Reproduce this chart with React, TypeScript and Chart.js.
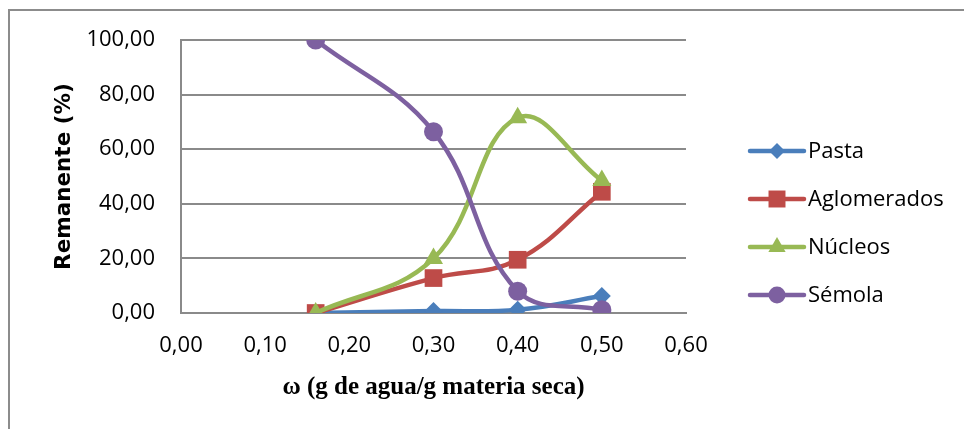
import { useEffect, useRef } from "react";
import { Chart, registerables } from "chart.js";

Chart.register(...registerables);

// Moisture content (g water / g dry matter)
const humedad = [0.16, 0.3, 0.4, 0.5];

// Retained fraction (%) per class
const pasta = [0.0, 0.7, 1.2, 6.2];
const aglomerados = [0.0, 12.8, 19.5, 44.4];
const nucleos = [0.0, 20.0, 71.5, 48.5];
const semola = [100.0, 66.4, 8.0, 1.2];

const seriesNames = ["Pasta", "Aglomerados", "Núcleos", "Sémola"];
const seriesColors = ["#4A7EBB", "#BE4B48", "#98B954", "#7D60A0"];
const seriesMarkers = ["rectRot", "rect", "triangle", "circle"];
const markerRadius = [9, 12.5, 11, 9.5];

const xTicks = [0, 0.1, 0.2, 0.3, 0.4, 0.5, 0.6];
const yTicks = [0, 20, 40, 60, 80, 100];

const xTitle = "ω (g de agua/g materia seca)";
const yTitle = "Remanente (%)";

const fmt = (v: number) => v.toFixed(2).replace(".", ",");

const TICK_FONT = "'Open Sans', sans-serif";

function drawMarker(ctx: CanvasRenderingContext2D, kind: string, x: number, y: number, r: number) {
  ctx.beginPath();
  if (kind === "rectRot") {
    ctx.moveTo(x - r, y);
    ctx.lineTo(x, y - r);
    ctx.lineTo(x + r, y);
    ctx.lineTo(x, y + r);
  } else if (kind === "rect") {
    const s = r * Math.SQRT1_2;
    ctx.rect(x - s, y - s, 2 * s, 2 * s);
  } else if (kind === "triangle") {
    ctx.moveTo(x, y - r);
    ctx.lineTo(x + r * 0.866, y + r * 0.5);
    ctx.lineTo(x - r * 0.866, y + r * 0.5);
  } else {
    ctx.arc(x, y, r, 0, Math.PI * 2);
  }
  ctx.closePath();
  ctx.fill();
}

const framePlugin = {
  id: "frame",
  beforeDraw(chart: Chart) {
    const ctx = chart.ctx;
    ctx.save();
    ctx.fillStyle = "#ffffff";
    ctx.fillRect(0, 0, chart.width, chart.height);
    ctx.strokeStyle = "#8c8c8c";
    ctx.lineWidth = 2;
    ctx.strokeRect(9, 10, chart.width + 10, chart.height + 10);
    ctx.restore();
  },
};

const sideLegendPlugin = {
  id: "sideLegend",
  afterDraw(chart: Chart) {
    const ctx = chart.ctx;
    ctx.save();
    chart.data.datasets.forEach((ds: any, i: number) => {
      const y = 151 + i * 48;
      ctx.strokeStyle = ds.borderColor;
      ctx.lineWidth = 4.5;
      ctx.lineCap = "round";
      ctx.beginPath();
      ctx.moveTo(750, y);
      ctx.lineTo(804, y);
      ctx.stroke();
      ctx.fillStyle = ds.borderColor;
      drawMarker(ctx, ds.pointStyle, 777, y, ds.legendMarker);
      ctx.fillStyle = "#000000";
      ctx.font = `22px ${TICK_FONT}`;
      ctx.textBaseline = "middle";
      ctx.textAlign = "left";
      ctx.fillText(ds.label, 808, y + 1);
    });
    ctx.restore();
  },
};

export default function App() {
  const ref = useRef<HTMLCanvasElement>(null);

  useEffect(() => {
    document.body.style.margin = "0";
    const values = [pasta, aglomerados, nucleos, semola];
    const legendMarker = [8, 12, 10, 8.5];
    const chart = new Chart(ref.current!, {
      type: "line",
      data: {
        datasets: values.map((vals, i) => ({
          label: seriesNames[i],
          data: humedad.map((x, k) => ({ x, y: vals[k] })),
          borderColor: seriesColors[i],
          backgroundColor: seriesColors[i],
          pointBackgroundColor: seriesColors[i],
          pointBorderColor: seriesColors[i],
          pointBorderWidth: 0,
          pointStyle: seriesMarkers[i],
          pointRadius: markerRadius[i],
          borderWidth: 4.5,
          tension: 0.4,
          fill: false,
          order: 4 - i,
          legendMarker: legendMarker[i],
        })) as any,
      },
      options: {
        responsive: false,
        animation: false,
        events: [],
        layout: { padding: { left: 0, top: 40, right: 278, bottom: 0 } },
        plugins: {
          legend: { display: false },
          tooltip: { enabled: false },
        },
        scales: {
          x: {
            type: "linear",
            min: 0,
            max: 0.6,
            afterBuildTicks: (scale: any) => {
              scale.ticks = xTicks.map((v) => ({ value: v }));
            },
            afterFit: (scale: any) => {
              scale.height = 116;
            },
            grid: { display: false, drawTicks: false },
            border: { display: true, color: "#8a8a8a", width: 2 },
            ticks: {
              padding: 20,
              color: "#000000",
              font: { family: TICK_FONT, size: 22 },
              callback: (v: any) => fmt(Number(v)),
            },
            title: {
              display: true,
              text: xTitle,
              color: "#000000",
              font: { family: "'Liberation Serif', serif", size: 25, weight: "bold" },
              padding: { top: 0, bottom: 26 },
            },
          },
          y: {
            type: "linear",
            min: 0,
            max: 100,
            afterBuildTicks: (scale: any) => {
              scale.ticks = yTicks.map((v) => ({ value: v }));
            },
            afterFit: (scale: any) => {
              scale.width = 181;
            },
            grid: { color: "#8a8a8a", lineWidth: 2, drawTicks: false },
            border: { display: true, color: "#8a8a8a", width: 2 },
            ticks: {
              padding: 26,
              color: "#000000",
              font: { family: TICK_FONT, size: 22 },
              callback: (v: any) => fmt(Number(v)),
            },
            title: {
              display: true,
              text: yTitle,
              color: "#000000",
              font: { family: "'DejaVu Sans', sans-serif", size: 21.5, weight: "bold" },
              padding: { top: 52, bottom: 0 },
            },
          },
        },
      },
      plugins: [framePlugin, sideLegendPlugin],
    });
    return () => chart.destroy();
  }, []);

  return (
    <div style={{ width: 964, height: 429 }}>
      <canvas ref={ref} width={964} height={429} />
    </div>
  );
}
